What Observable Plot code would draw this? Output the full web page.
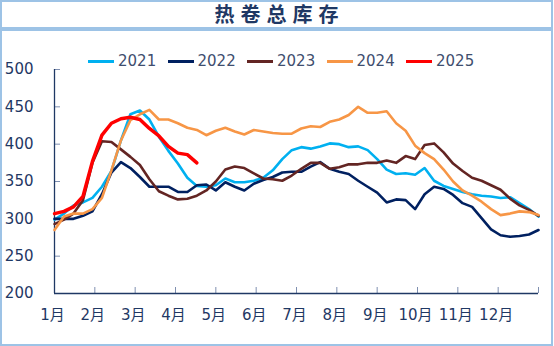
<!DOCTYPE html>
<html><head><meta charset="utf-8">
<script src="https://cdn.jsdelivr.net/npm/d3@7"></script>
<script src="https://cdn.jsdelivr.net/npm/@observablehq/plot@0.6"></script>
<style>
body{margin:0;background:#fff;}
#wrap{position:relative;width:554px;height:346px;overflow:hidden;font-family:"DejaVu Sans","Noto Sans CJK SC",sans-serif;}
#title{position:absolute;left:0;top:0;width:553px;height:29px;box-sizing:border-box;border:2px solid #9DC3E6;text-align:center;font-family:"Noto Sans CJK SC";font-weight:bold;font-size:20px;color:#1F3864;letter-spacing:6px;padding-left:6px;line-height:24px;}
#box{position:absolute;left:0;top:29px;width:553px;height:317px;box-sizing:border-box;border:2px solid #9DC3E6;z-index:2;pointer-events:none;}
#chart{position:absolute;left:0;top:30px;z-index:1;}
#legend{position:absolute;top:52px;left:88px;display:flex;z-index:3;}
.item{display:flex;align-items:center;width:79.5px;flex:none;height:18px;}
.sw{width:26px;height:3px;margin-right:4px;}
.lt{font-size:15px;color:#404E6E;}
</style></head>
<body>
<div id="wrap">
  <div id="title">热卷总库存</div>
  <div id="chart"></div>
  <div id="box"></div>
  <div id="legend"></div>
</div>
<script>
const seriesNames = ["2021", "2022", "2023", "2024", "2025"];
const seriesColors = ["#00B0F0", "#002060", "#632523", "#F79646", "#FF0000"];
const monthLabels = ["1月","2月","3月","4月","5月","6月","7月","8月","9月","10月","11月","12月"];
const yTicks = [200, 250, 300, 350, 400, 450, 500];

const v2021 = [299,307,318,322,328,343,364,405,440,445,433,410,391,374,355,344,343,345,354,349,349,351,355,365,380,392,396,394,397,401,400,396,397,392,380,366,360,361,359,368,351,344,340,336,333,331,330,328,329,321,313,303];
const v2022 = [300,300,300,304,310,333,362,376,368,356,343,343,343,336,336,345,346,338,349,343,338,347,352,356,362,363,363,370,376,367,363,360,351,343,335,322,326,325,313,333,343,340,332,321,316,301,286,278,276,277,279,285];
const v2023 = [293,299,307,325,375,404,403,393,383,372,353,337,331,326,327,331,338,350,366,370,368,361,354,353,351,358,367,375,375,367,369,373,373,375,375,378,375,384,380,399,401,389,374,364,355,351,345,339,327,318,312,304];
const v2024 = [285,303,307,307,313,328,365,405,432,440,446,433,433,428,422,419,412,418,422,417,413,419,417,415,414,414,421,424,423,430,433,439,450,442,442,444,428,418,398,388,380,366,350,338,331,323,313,305,307,310,309,305];
const v2025 = [307,310,316,330,377,412,428,434,436,433,421,411,397,388,386,375];
const allValues = [v2021, v2022, v2023, v2024, v2025];

const weeksPerYear = 51; // index span across 12 months
const data = [];
allValues.forEach((vals, k) => vals.forEach((v, i) => data.push({x: i * 12 / weeksPerYear, y: v, s: seriesNames[k]})));

const plot = Plot.plot({
  width: 554, height: 316,
  marginLeft: 54, marginRight: 16, marginTop: 39, marginBottom: 53,
  style: {background: "transparent", fontFamily: '"DejaVu Sans","Noto Sans CJK SC",sans-serif', color: "#1F3864"},
  x: {domain: [0, 12]},
  y: {domain: [200, 500]},
  color: {domain: seriesNames, range: seriesColors},
  marks: [
    Plot.axisY(yTicks, {tickSize: 0, tickPadding: 21, fontSize: 15, fill: "#1F3864", label: null}),
    Plot.axisY(yTicks, {tickSize: -6, text: null, stroke: "#7F8FB0", label: null}),
    Plot.axisX(d3.range(0, 13), {tickSize: -6, text: null, stroke: "#7F8FB0", label: null}),
    Plot.axisX(d3.range(0, 12), {tickSize: 0, tickPadding: 16, fontSize: 15, fill: "#1F3864", dx: -2, tickFormat: i => monthLabels[i], label: null}),
    Plot.ruleX([0], {y1: 200, y2: 500, stroke: "#1F3864", strokeWidth: 1.3}),
    Plot.ruleY([200], {stroke: "#1F3864", strokeWidth: 1.3}),
    ...seriesNames.map((name) => Plot.line(data.filter(d => d.s === name), {x: "x", y: "y", stroke: "s", strokeWidth: name === "2025" ? 3.5 : 2.6, strokeLinejoin: "round"}))
  ]
});
document.getElementById("chart").appendChild(plot);

const legend = document.getElementById("legend");
seriesNames.forEach((name, k) => {
  const it = document.createElement("div"); it.className = "item";
  const sw = document.createElement("div"); sw.className = "sw"; sw.style.background = seriesColors[k];
  const lt = document.createElement("span"); lt.className = "lt"; lt.textContent = name;
  it.appendChild(sw); it.appendChild(lt); legend.appendChild(it);
});
</script>
</body></html>
